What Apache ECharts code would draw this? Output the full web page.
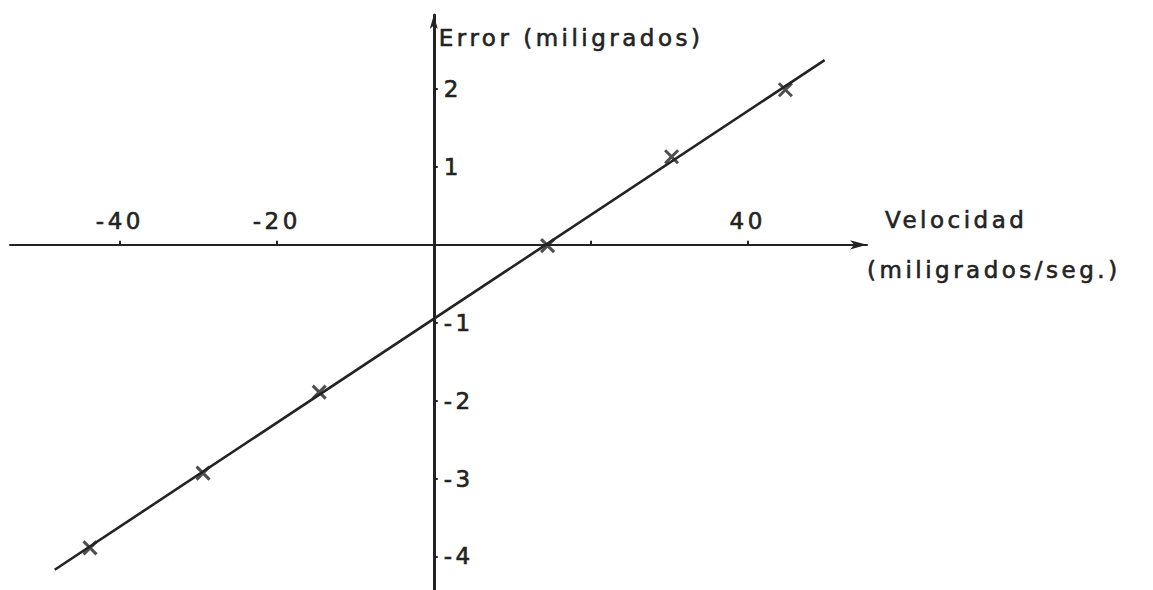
<!DOCTYPE html>
<html>
<head>
<meta charset="utf-8">
<script src="https://cdn.jsdelivr.net/npm/echarts@6/dist/echarts.min.js"></script>
<style>
  html, body { margin: 0; padding: 0; background: #ffffff; }
  #chart { width: 1153px; height: 590px; }
  /* lettering is drawn with wide tracking */
  #chart svg text { letter-spacing: 3.5px; }
</style>
</head>
<body>
<div id="chart"></div>
<script>
// Measured points: velocity (milligrades/s) against error (milligrades)
const velocidad = [-43.8, -29.4, -14.6, 14.5, 30.3, 44.8];
const errorMed  = [-3.89, -2.93, -1.89, -0.01, 1.13, 1.99];

// Fitted straight line, given by its two end points
const rectaX = [-48.3, 49.8];
const rectaY = [-4.17, 2.37];

// Axis ticks and labels
const xTicks  = [-40, -20, 20, 40];
const xLabels = [-40, -20, 40];
const yTicks  = [-4, -3, -2, -1, 1, 2];
const yLabels = [-4, -3, -2, -1, 1, 2];

// Axis titles
const xTitle = 'Velocidad';
const xUnits = '(miligrados/seg.)';
const yTitle = 'Error (miligrados)';

const ink = '#232323';
const font = 'DejaVu Sans';

// Plot frame and value ranges; the axes are moved in to cross at the origin
const W = 1153, H = 590;
const gridBox = { left: 10, right: 286, top: 15, bottom: 0 };
const xRange = [-54, 55.2];
const yRange = [-4.43, 2.95];
const plotW = W - gridBox.left - gridBox.right;
const plotH = H - gridBox.top - gridBox.bottom;
// distance from the grid edge to the zero line of the other axis
const xAxisShift = -plotH * (0 - yRange[0]) / (yRange[1] - yRange[0]);
const yAxisShift = -plotW * (0 - xRange[0]) / (xRange[1] - xRange[0]);

// medium-weight lettering: regular face with a thin outline in the same ink
const textBase = {
  color: ink, fontFamily: font, fontSize: 23, fontWeight: 'normal',
  textBorderColor: ink, textBorderWidth: 0.6
};

const chart = echarts.init(document.getElementById('chart'), null, { renderer: 'svg' });

chart.setOption({
  animation: false,
  backgroundColor: '#ffffff',
  grid: Object.assign({ containLabel: false }, gridBox),
  xAxis: {
    type: 'value',
    position: 'bottom',
    offset: xAxisShift,
    min: xRange[0], max: xRange[1],
    axisLine: {
      onZero: false,
      symbol: ['none', 'arrow'],
      symbolSize: [7, 17],
      lineStyle: { color: ink, width: 2 }
    },
    axisTick: {
      show: true, inside: true, length: 4,
      customValues: xTicks,
      lineStyle: { color: ink, width: 2 }
    },
    axisLabel: Object.assign({
      show: true, inside: true, margin: 12,
      customValues: xLabels
    }, textBase),
    splitLine: { show: false },
    name: '{a|' + xTitle + '}\n{b|' + xUnits + '}',
    nameLocation: 'end',
    nameGap: 0,
    nameTextStyle: Object.assign({
      align: 'left', verticalAlign: 'middle',
      rich: {
        a: Object.assign({ lineHeight: 50, padding: [0, 0, 0, 18] }, textBase),
        b: Object.assign({ lineHeight: 50 }, textBase)
      }
    }, textBase)
  },
  yAxis: {
    type: 'value',
    position: 'left',
    offset: yAxisShift,
    min: yRange[0], max: yRange[1],
    axisLine: {
      onZero: false,
      symbol: ['none', 'arrow'],
      symbolSize: [6, 14],
      lineStyle: { color: ink, width: 3 }
    },
    axisTick: {
      show: true, inside: true, length: 4,
      customValues: yTicks,
      lineStyle: { color: ink, width: 2 }
    },
    axisLabel: Object.assign({
      show: true, inside: true, margin: 10,
      customValues: yLabels
    }, textBase),
    splitLine: { show: false },
    name: yTitle,
    nameLocation: 'end',
    nameGap: -23,
    nameTextStyle: Object.assign({
      align: 'left', verticalAlign: 'middle',
      padding: [0, 0, 0, 5]
    }, textBase)
  },
  series: [
    {
      type: 'line',
      data: rectaX.map((x, i) => [x, rectaY[i]]),
      showSymbol: false,
      symbol: 'none',
      lineStyle: { color: ink, width: 2.6 },
      emphasis: { disabled: true },
      z: 2
    },
    {
      type: 'scatter',
      data: velocidad.map((x, i) => [x, errorMed[i]]),
      symbol: 'path://M0 0L10 10M10 0L0 10',
      symbolSize: 13,
      itemStyle: { color: 'rgba(0,0,0,0)', borderColor: ink, borderWidth: 3 },
      emphasis: { disabled: true },
      z: 3
    }
  ]
});
</script>
</body>
</html>
